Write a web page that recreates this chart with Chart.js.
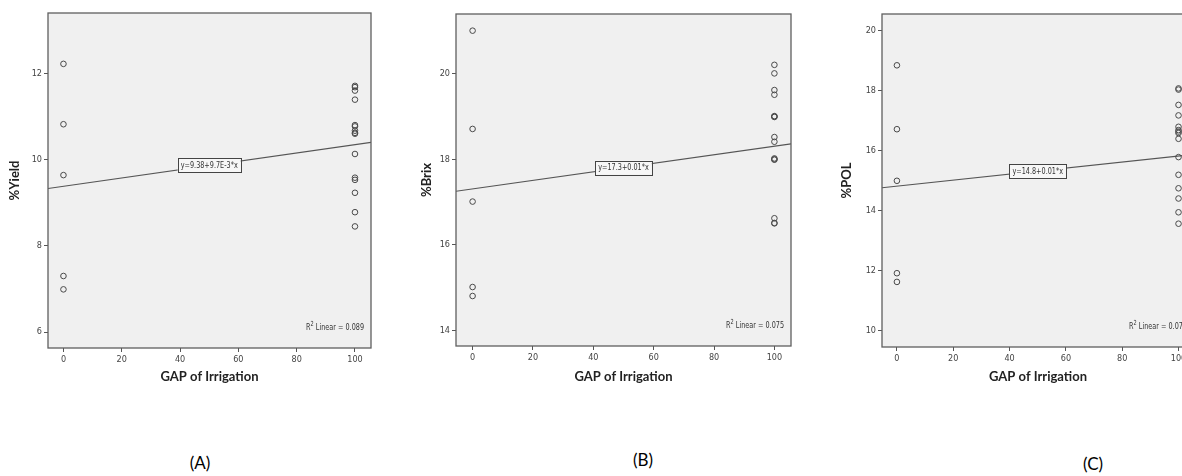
<!DOCTYPE html>
<html>
<head>
<meta charset="utf-8">
<script src="https://cdn.jsdelivr.net/npm/chart.js@4.4.1/dist/chart.umd.min.js"></script>
<style>
  html, body { margin: 0; padding: 0; background: #fff; }
  body { position: relative; width: 1182px; height: 476px; overflow: hidden; }
  .panel { position: absolute; top: 0; }
  .tag { position: absolute; font-family: Lato, "Open Sans", sans-serif; font-size: 17px; color: #000;
         transform: translate(-50%, -50%); }
</style>
</head>
<body>
<div class="panel" style="left:0px"><canvas id="chartA" width="383" height="400"></canvas></div>
<div class="panel" style="left:408px"><canvas id="chartB" width="395" height="400"></canvas></div>
<div class="panel" style="left:834px"><canvas id="chartC" width="372" height="400"></canvas></div>
<div class="tag" style="left:200px; top:462px">(A)</div>
<div class="tag" style="left:643px; top:459px">(B)</div>
<div class="tag" style="left:1093px; top:463px">(C)</div>

<script>
// GAP of Irrigation levels (x)
const gapLevels = [0, 100];
const xTicks = [0, 20, 40, 60, 80, 100];

// (A) %Yield
const yieldAt0 = [12.22, 10.82, 9.64, 7.30, 6.99];
const yieldAt100 = [11.71, 11.68, 11.60, 11.39, 10.80, 10.77, 10.67, 10.62, 10.60, 10.13, 9.58, 9.53, 9.23, 8.78, 8.45];
const yieldTicks = [6, 8, 10, 12];
const yieldFit = [[-5.3, 9.33], [105.5, 10.40]];

// (B) %Brix
const brixAt0 = [21.01, 18.71, 17.01, 15.01, 14.80];
const brixAt100 = [20.21, 20.01, 19.62, 19.51, 19.01, 19.00, 18.99, 18.52, 18.41, 18.02, 18.00, 17.99, 16.62, 16.51, 16.50];
const brixTicks = [14, 16, 18, 20];
const brixFit = [[-5.5, 17.25], [105.5, 18.36]];

// (C) %POL
const polAt0 = [18.83, 16.70, 14.98, 11.90, 11.61];
const polAt100 = [18.06, 18.02, 17.51, 17.16, 16.78, 16.67, 16.62, 16.57, 16.38, 15.77, 15.18, 14.73, 14.39, 13.93, 13.55];
const polTicks = [10, 12, 14, 16, 18, 20];
const polFit = [[-5.3, 14.75], [105.5, 15.86]];

const smallFont = '"Liberation Sans Narrow", "DejaVu Sans Condensed", "Liberation Sans", sans-serif';
const squeeze = 0.8; // SPSS labels are set in a condensed face

// draws the grey plot box, frame, equation label and R2 note
const spssFrame = {
    id: 'spssFrame',
    beforeDraw(chart) {
        const a = chart.chartArea, ctx = chart.ctx;
        ctx.save();
        ctx.fillStyle = '#f0f0f0';
        ctx.fillRect(a.left, a.top, a.right - a.left, a.bottom - a.top);
        ctx.restore();
    },
    afterDatasetsDraw(chart) {
        const a = chart.chartArea, ctx = chart.ctx;
        const opt = chart.options.plugins.spssFrame;
        const xs = chart.scales.x, ys = chart.scales.y;
        ctx.save();
        ctx.strokeStyle = '#5f5f5f';
        ctx.lineWidth = 1.3;
        ctx.strokeRect(a.left, a.top, a.right - a.left, a.bottom - a.top);

        // equation box centred on the fit line at x = 50
        const ln = opt.line;
        const yMid = ln[0][1] + (ln[1][1] - ln[0][1]) * (50 - ln[0][0]) / (ln[1][0] - ln[0][0]);
        const px = xs.getPixelForValue(50), py = ys.getPixelForValue(yMid);
        ctx.font = '9px ' + smallFont;
        const w = ctx.measureText(opt.equation).width * squeeze + 6, h = 14;
        ctx.fillStyle = '#f7f7f7';
        ctx.fillRect(px - w / 2, py - h / 2, w, h);
        ctx.strokeStyle = '#444';
        ctx.lineWidth = 1;
        ctx.strokeRect(Math.round(px - w / 2) + 0.5, Math.round(py - h / 2) + 0.5, Math.round(w), h);
        ctx.fillStyle = '#333';
        ctx.textAlign = 'center';
        ctx.textBaseline = 'middle';
        ctx.save();
        ctx.translate(px, py + 0.5);
        ctx.scale(squeeze, 1);
        ctx.fillText(opt.equation, 0, 0);
        ctx.restore();

        // R2 Linear note, bottom right
        const rest = ' Linear = ' + opt.r2;
        const right = a.right - 7, base = a.bottom - 18;
        ctx.textAlign = 'left';
        ctx.textBaseline = 'alphabetic';
        const wRest = ctx.measureText(rest).width;
        const wR = ctx.measureText('R').width;
        ctx.font = '7px ' + smallFont;
        const w2 = ctx.measureText('2').width;
        ctx.translate(right, base);
        ctx.scale(squeeze, 1);
        const x0 = -(wRest + w2 + wR);
        ctx.font = '9px ' + smallFont;
        ctx.fillText('R', x0, 0);
        ctx.fillText(rest, x0 + wR + w2, 0);
        ctx.font = '7px ' + smallFont;
        ctx.fillText('2', x0 + wR, -4);
        ctx.restore();
    }
};

function makePanel(id, at0, at100, yTicks, fit, p) {
    let points = [];
    at0.forEach(v => points.push({ x: gapLevels[0], y: v }));
    at100.forEach(v => points.push({ x: gapLevels[1], y: v }));

    const tickStyle = { font: { family: smallFont, size: 9 }, color: '#444' };
    const gridStyle = { display: true, drawOnChartArea: false, drawTicks: true, tickLength: 4, color: '#555', lineWidth: 1 };
    const titleFont = { family: 'Lato, "Open Sans", sans-serif', size: 13, weight: 'bold' };

    return new Chart(document.getElementById(id), {
        type: 'scatter',
        data: {
            datasets: [{
                data: points,
                pointStyle: 'circle',
                pointRadius: 2.8,
                pointBackgroundColor: 'rgba(0,0,0,0)',
                pointBorderColor: '#4a4a4a',
                pointBorderWidth: 1
            }, {
                type: 'line',
                data: fit.map(d => ({ x: d[0], y: d[1] })),
                borderColor: '#555',
                borderWidth: 1.1,
                pointRadius: 0,
                fill: false
            }]
        },
        options: {
            responsive: false,
            animation: false,
            events: [],
            layout: { padding: { top: p.top, right: 12, left: 0, bottom: 0 } },
            plugins: {
                legend: { display: false },
                tooltip: { enabled: false },
                spssFrame: { line: fit, equation: p.equation, r2: p.r2 }
            },
            scales: {
                x: {
                    type: 'linear',
                    min: p.xMin, max: p.xMax,
                    afterBuildTicks: s => { s.ticks = xTicks.map(v => ({ value: v })); },
                    afterFit: s => { s.height = p.xHeight; },
                    grid: gridStyle,
                    border: { display: false },
                    ticks: Object.assign({ padding: 2, maxRotation: 0 }, tickStyle),
                    title: { display: true, text: 'GAP of Irrigation', font: titleFont, color: '#222',
                             padding: { top: 0, bottom: 15 } }
                },
                y: {
                    type: 'linear',
                    min: p.yMin, max: p.yMax,
                    afterBuildTicks: s => { s.ticks = yTicks.map(v => ({ value: v })); },
                    afterFit: s => { s.width = 48; },
                    grid: gridStyle,
                    border: { display: false },
                    ticks: Object.assign({ padding: 2 }, tickStyle),
                    title: { display: true, text: p.yTitle, font: titleFont, color: '#222',
                             padding: { top: p.yTitlePad, bottom: 0 } }
                }
            }
        },
        plugins: [spssFrame]
    });
}

makePanel('chartA', yieldAt0, yieldAt100, yieldTicks, yieldFit, {
    top: 13, xHeight: 52, xMin: -5.3, xMax: 105.5, yMin: 5.63, yMax: 13.4,
    yTitle: '%Yield', yTitlePad: 7, equation: 'y=9.38+9.7E-3*x', r2: '0.089'
});
makePanel('chartB', brixAt0, brixAt100, brixTicks, brixFit, {
    top: 14, xHeight: 54, xMin: -5.5, xMax: 105.5, yMin: 13.63, yMax: 21.4,
    yTitle: '%Brix', yTitlePad: 11, equation: 'y=17.3+0.01*x', r2: '0.075'
});
makePanel('chartC', polAt0, polAt100, polTicks, polFit, {
    top: 14, xHeight: 53, xMin: -5.3, xMax: 105.5, yMin: 9.44, yMax: 20.54,
    yTitle: '%POL', yTitlePad: 5, equation: 'y=14.8+0.01*x', r2: '0.077'
});
</script>
</body>
</html>
